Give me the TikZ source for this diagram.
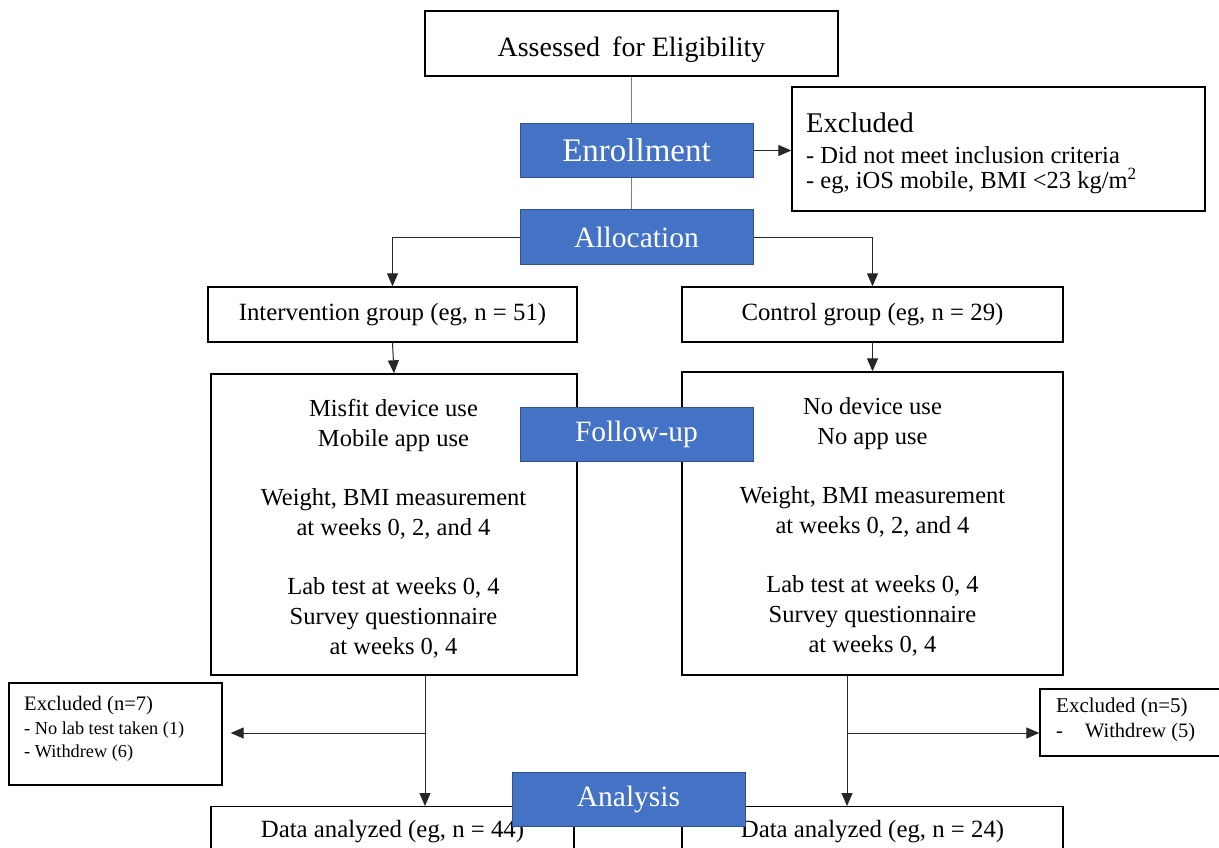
\documentclass[tikz,border=0pt]{standalone}
\usepackage{fontspec}
\setmainfont{Liberation Serif}
\usetikzlibrary{arrows.meta}
\definecolor{cblue}{HTML}{4472C4}
\definecolor{cbord}{HTML}{2F528F}
\begin{document}
\begin{tikzpicture}[x=1pt,y=-1pt,
  box/.style={draw=black, line width=1.4pt, fill=white, inner sep=0pt, font=\fontsize{24.8}{30}\selectfont},
  phase/.style={draw=cbord, line width=1pt, fill=cblue, text=white, inner sep=0pt, minimum width=233pt, minimum height=54pt, font=\fontsize{29.5}{34}\selectfont},
  lbl/.style={anchor=west, inner sep=0pt},
  btxt/.style={inner sep=0pt, align=center, font=\fontsize{24.5}{30}\selectfont},
  conn/.style={line width=1pt, draw=black!85},
  gconn/.style={line width=1pt, draw=black!50},
  arr/.style={conn, -{Triangle[length=13pt,width=11pt]}}]
\useasboundingbox (0,0) rectangle (1219,848);
\clip (0,0) rectangle (1219,848);
\fill[white] (0,0) rectangle (1219,848);
% top
\node[box, minimum width=413pt, minimum height=65pt, text height=31pt, text depth=5pt, font=\fontsize{28}{32}\selectfont] (assess) at (631.5,43.5) {Assessed\hspace{5pt} for Eligibility};
\node[phase, font=\fontsize{33}{38}\selectfont] (enroll) at (636.5,150.5) {Enrollment};
\node[box, minimum width=413pt, minimum height=124pt] (excl1) at (998.5,149) {};
\node[lbl, font=\fontsize{28.5}{32}\selectfont] (excl1h) at (806,123) {Excluded};
\node[lbl, font=\fontsize{24.5}{28}\selectfont] (excl1a) at (806,155) {- Did not meet inclusion criteria};
\node[lbl, font=\fontsize{24.5}{28}\selectfont] (excl1b) at (806,181) {- eg, iOS mobile, BMI <23 kg/m\textsuperscript{2}};
\node[phase] (alloc) at (636.5,237) {Allocation};
% groups
\node[box, minimum width=369pt, minimum height=55pt] (interv) at (392.5,314.5) {Intervention group (eg, n = 51)};
\node[box, minimum width=381pt, minimum height=55pt] (ctrl) at (872.5,314.5) {Control group (eg, n = 29)};
\node[box, minimum width=366pt, minimum height=301pt] (ibox) at (394,524.5) {};
\node[btxt] (ibtxt) at (393.5,529)
  {Misfit device use\\Mobile app use\\[29pt]Weight, BMI measurement\\at weeks 0, 2, and 4\\[29pt]Lab test at weeks 0, 4\\Survey questionnaire\\at weeks 0, 4};
\node[box, minimum width=381pt, minimum height=303pt] (cbox) at (872.5,523.5) {};
\node[btxt] (cbtxt) at (872.5,527)
  {No device use\\No app use\\[29pt]Weight, BMI measurement\\at weeks 0, 2, and 4\\[29pt]Lab test at weeks 0, 4\\Survey questionnaire\\at weeks 0, 4};
\node[phase] (follow) at (636.5,434.5) {Follow-up};
% bottom
\coordinate (lsplit) at (425,733);
\coordinate (rsplit) at (847,733);
\node[box, minimum width=213pt, minimum height=102pt] (exclL) at (115.5,734) {};
\node[lbl, font=\fontsize{20.6}{24}\selectfont] (exclLh) at (24,706) {Excluded (n=7)};
\node[lbl, font=\fontsize{18.3}{22}\selectfont] (exclLa) at (24,730) {- No lab test taken (1)};
\node[lbl, font=\fontsize{18.3}{22}\selectfont] (exclLb) at (24,753) {- Withdrew (6)};
\node[box, minimum width=200pt, minimum height=67pt] (exclR) at (1140,722.5) {};
\node[lbl, font=\fontsize{21}{24}\selectfont] (exclRh) at (1056,707) {Excluded (n=5)};
\node[lbl, font=\fontsize{20.5}{24}\selectfont] (exclRa) at (1056,733) {-\hspace{22pt}Withdrew (5)};
\node[box, minimum width=363pt, minimum height=50pt, anchor=north] (dataL) at (392.5,806) {Data analyzed (eg, n = 44)};
\node[box, minimum width=381pt, minimum height=50pt, anchor=north] (dataR) at (872.5,806) {Data analyzed (eg, n = 24)};
% connectors
\draw[gconn] (assess.south) -- (assess.south |- enroll.north);
\draw[gconn] (enroll.south -| assess.south) -- (alloc.north -| assess.south);
\draw[arr] (enroll.east) -- (enroll.east -| excl1.west);
\draw[arr] (alloc.west) -| (interv.north);
\draw[arr] (alloc.east) -| (ctrl.north);
\draw[arr] (interv.south) -- (ibox.north);
\draw[arr] (ctrl.south) -- (cbox.north);
\draw[arr] (ibox.south -| lsplit) -- (dataL.north -| lsplit);
\draw[arr, shorten >=8pt] (lsplit) -- (lsplit -| exclL.east);
\draw[arr] (cbox.south -| rsplit) -- (dataR.north -| rsplit);
\draw[arr] (rsplit) -- (rsplit -| exclR.west);
\node[phase] (analysis) at (628.5,799) {Analysis};
\end{tikzpicture}
\end{document}
